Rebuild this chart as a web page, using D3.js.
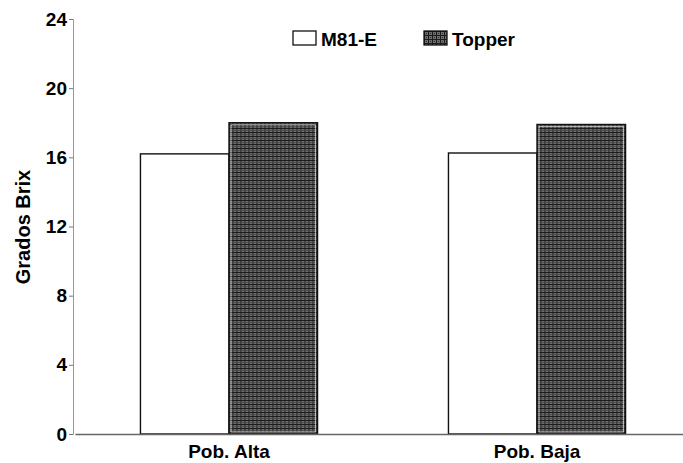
<!DOCTYPE html>
<html lang="en">
<head>
<meta charset="UTF-8">
<title>Grados Brix</title>
<script src="https://d3js.org/d3.v7.min.js"></script>
<style>
  body { margin: 0; background: #fff; }
  text { font-family: "Liberation Sans", Arial, sans-serif; font-weight: bold; fill: #000; }
</style>
</head>
<body>
<div id="chart"></div>
<script>
var categories = ["Pob. Alta", "Pob. Baja"];
var series = ["M81-E", "Topper"];
var m81 = [16.2, 16.25];
var topper = [18.0, 17.9];
var yTicks = [0, 4, 8, 12, 16, 20, 24];

var W = 683, H = 463;
var svg = d3.select("#chart").append("svg")
    .attr("width", W).attr("height", H);

// grainy dark fill used by Topper
var defs = svg.append("defs");
var pat = defs.append("pattern")
    .attr("id", "topperFill")
    .attr("patternUnits", "userSpaceOnUse")
    .attr("width", 4).attr("height", 4);
pat.append("rect").attr("width", 4).attr("height", 4).attr("fill", "#6e6e6e");
pat.append("rect").attr("width", 4).attr("height", 1).attr("fill", "#1c1c1c");
pat.append("rect").attr("width", 1).attr("height", 4).attr("fill", "#1c1c1c");
pat.append("rect").attr("x", 2).attr("y", 2).attr("width", 1).attr("height", 1).attr("fill", "#333");

var y = d3.scaleLinear().domain([0, 24]).range([434, 19]);
var x0 = d3.scaleBand().domain(categories).range([75, 691])
    .paddingInner(0.425).paddingOuter(0.2125);
var x1 = d3.scaleBand().domain(series).range([0, x0.bandwidth()]);

var rows = categories.map(function(c, i) {
  return { cat: c, vals: [{ s: "M81-E", v: m81[i] }, { s: "Topper", v: topper[i] }] };
});

// y axis
var yAxis = svg.append("g")
    .attr("transform", "translate(73,0)")
    .call(d3.axisLeft(y).tickValues(yTicks).tickSize(4).tickPadding(2));
yAxis.select(".domain").attr("stroke", "#999");
yAxis.selectAll(".tick line").attr("stroke", "#777");
yAxis.selectAll("text").style("font-size", "19px");

// bars
var groups = svg.selectAll(".grp").data(rows).enter().append("g")
    .attr("transform", function(d) { return "translate(" + x0(d.cat) + ",0)"; });
groups.selectAll("rect.bar").data(function(d) { return d.vals; }).enter().append("rect")
    .attr("class", "bar")
    .attr("x", function(d) { return x1(d.s); })
    .attr("y", function(d) { return y(d.v); })
    .attr("width", x1.bandwidth())
    .attr("height", function(d) { return y(0) - y(d.v); })
    .attr("fill", function(d) { return d.s === "Topper" ? "url(#topperFill)" : "#fff"; })
    .attr("stroke", "#111")
    .attr("stroke-width", 1.4);
// thin light inner edge on the Topper bars
groups.selectAll("rect.inner").data(function(d) { return d.vals.filter(function(v) { return v.s === "Topper"; }); })
  .enter().append("rect")
    .attr("class", "inner")
    .attr("x", function(d) { return x1(d.s) + 2; })
    .attr("y", function(d) { return y(d.v) + 2; })
    .attr("width", x1.bandwidth() - 4)
    .attr("height", function(d) { return y(0) - y(d.v) - 4; })
    .attr("fill", "none")
    .attr("stroke", "#ddd")
    .attr("stroke-width", 0.7);

// x axis
var xAxis = svg.append("g")
    .attr("transform", "translate(0,434)")
    .call(d3.axisBottom(x0).tickSize(0).tickPadding(11));
xAxis.select(".domain").attr("stroke", "#666").attr("stroke-width", 1.5);
xAxis.selectAll("text").style("font-size", "19px");

// y label
svg.append("text")
    .attr("transform", "translate(30,227) rotate(-90)")
    .attr("text-anchor", "middle")
    .style("font-size", "20px")
    .text("Grados Brix");

// legend
var legX = [293, 424];
var leg = svg.selectAll(".leg").data(series).enter().append("g")
    .attr("transform", function(d, i) { return "translate(" + legX[i] + ",31)"; });
leg.append("rect")
    .attr("width", 23).attr("height", 14)
    .attr("fill", function(d) { return d === "Topper" ? "url(#topperFill)" : "#fff"; })
    .attr("stroke", "#111").attr("stroke-width", 1.3);
leg.append("text")
    .attr("x", 28).attr("y", 15)
    .style("font-size", "19px")
    .text(function(d) { return d; });
</script>
</body>
</html>
